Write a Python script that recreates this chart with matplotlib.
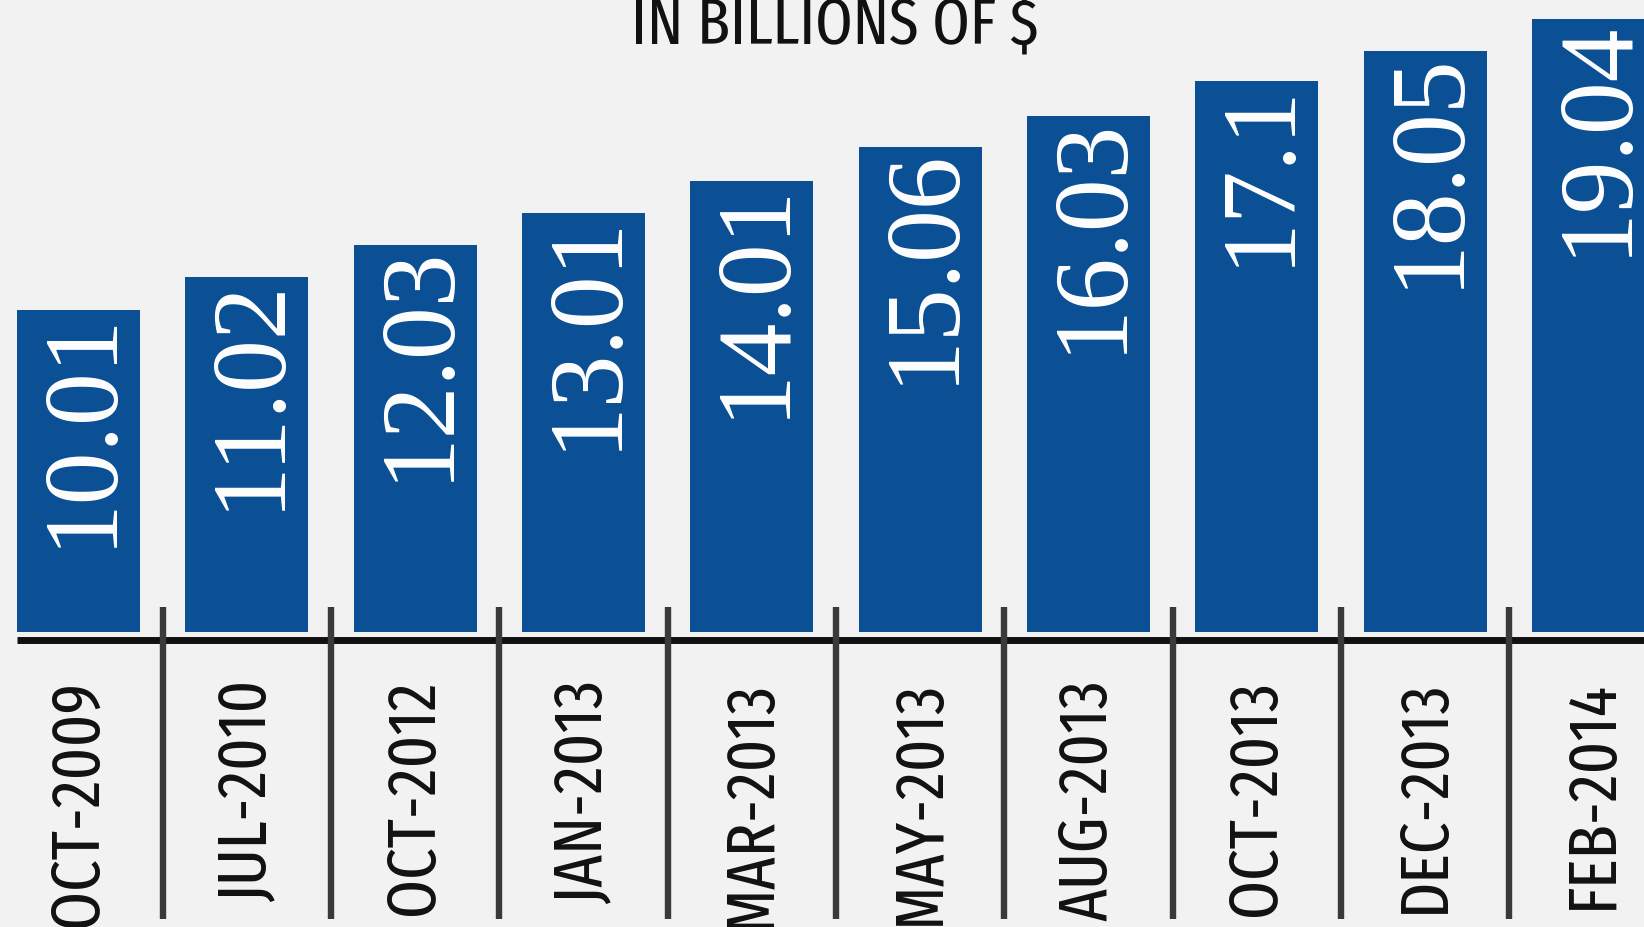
import matplotlib.pyplot as plt

# data
dates = ["OCT-2009", "JUL-2010", "OCT-2012", "JAN-2013", "MAR-2013",
         "MAY-2013", "AUG-2013", "OCT-2013", "DEC-2013", "FEB-2014"]
values = [10.01, 11.02, 12.03, 13.01, 14.01, 15.06, 16.03, 17.1, 18.05, 19.04]
title = "IN BILLIONS OF $"

BG = "#f2f2f2"
BAR = "#0b4f94"
INK = "#111111"
SEP = "#3a3a3a"

narrow = ["Fira Sans Extra Condensed", "PT Sans Narrow", "DejaVu Sans"]
serif = ["Liberation Serif", "DejaVu Serif"]

fig = plt.figure(figsize=(16.44, 9.28), dpi=100, facecolor=BG)
ax = fig.add_axes([0, 0, 1, 1])
ax.set_facecolor(BG)
ax.set_axis_off()

x = list(range(len(values)))
ax.bar(x, values, width=0.73, color=BAR, edgecolor="none", zorder=2)

ax.set_xlim(-0.466, 9.30)
ax.set_ylim(-9.16, 19.66)

# baseline and separators between categories
ax.hlines(-0.26, -0.365, len(values), color=INK, linewidth=5, zorder=3)
ax.vlines([i + 0.5 for i in x[:-1]], -8.91, 0.78, color=SEP, linewidth=4.6, zorder=3)

for i, v in zip(x, values):
    ax.text(i + 0.03, v + 0.05, f"{v:g}", rotation=90, ha="center", va="top",
            color="white", fontsize=76, family=serif, zorder=4)

for i, d in zip(x, dates):
    ax.text(i, -1.45, d, rotation=90, ha="center", va="top",
            color=INK, fontsize=49, family=narrow, zorder=4)

fig.text(835 / 1644, 1 - 43 / 928, title, ha="center", va="baseline",
         color=INK, fontsize=47, family=narrow)

fig.savefig("out.png", dpi=100, facecolor=BG)
